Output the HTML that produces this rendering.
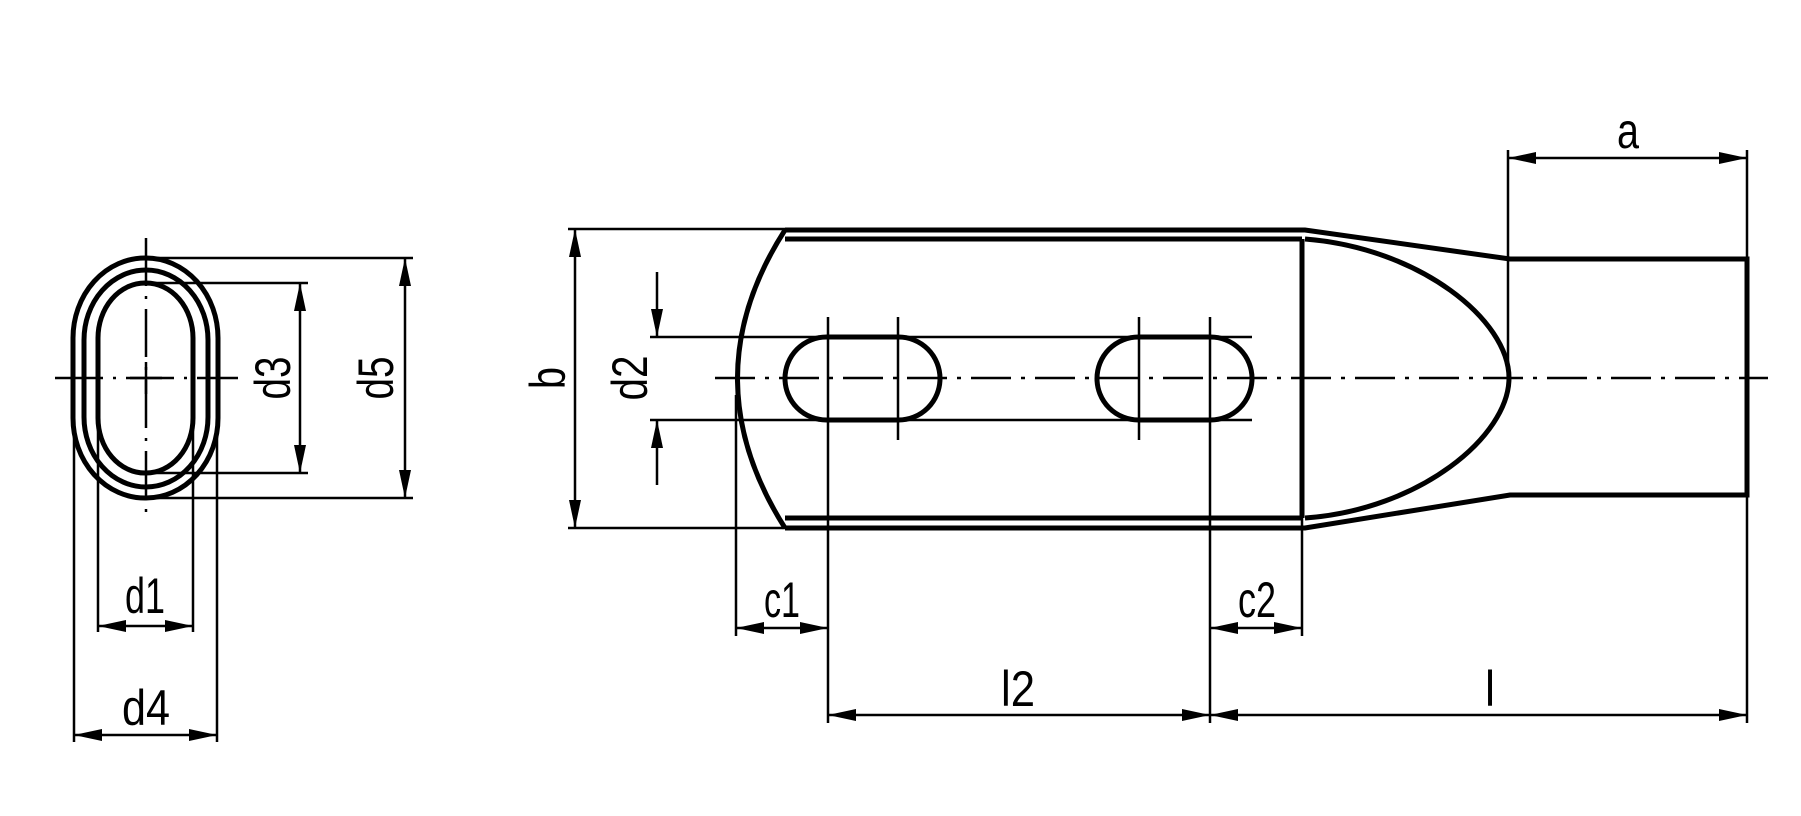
<!DOCTYPE html>
<html><head><meta charset="utf-8"><style>
html,body{margin:0;padding:0;background:#fff}
svg{display:block}
text{font-family:"Liberation Sans",sans-serif;font-size:50px;fill:#000}
</style></head><body>
<svg width="1801" height="816" viewBox="0 0 1801 816" xmlns="http://www.w3.org/2000/svg">
<defs>
<marker id="ar" viewBox="0 0 28 12" refX="28" refY="6" markerWidth="28" markerHeight="12" markerUnits="userSpaceOnUse" orient="auto-start-reverse">
<path d="M0,0 L28,6 L0,12 Z" fill="#000"/>
</marker>
</defs>
<g fill="none" stroke="#000">
<g stroke-width="5">
<rect x="73" y="258" width="145" height="240" rx="72" ry="80"/>
<rect x="84" y="270" width="124" height="217" rx="62" ry="70"/>
<rect x="98" y="283" width="95" height="190" rx="47" ry="55"/>
</g>
<g stroke-width="2.5">
<line x1="146" y1="238" x2="146" y2="517" stroke-dasharray="48 10 3 10"/>
<line x1="55" y1="378" x2="238" y2="378" stroke-dasharray="48 10 3 10"/>
<line x1="130" y1="378" x2="162" y2="378"/>
<line x1="146" y1="362" x2="146" y2="394"/>
<line x1="146" y1="283" x2="308" y2="283"/>
<line x1="146" y1="473" x2="308" y2="473"/>
<line x1="146" y1="258" x2="413" y2="258"/>
<line x1="146" y1="498" x2="413" y2="498"/>
<line x1="300" y1="283" x2="300" y2="473" marker-start="url(#ar)" marker-end="url(#ar)"/>
<line x1="405" y1="258" x2="405" y2="498" marker-start="url(#ar)" marker-end="url(#ar)"/>
<line x1="74" y1="390" x2="74" y2="742"/>
<line x1="217" y1="390" x2="217" y2="742"/>
<line x1="98" y1="400" x2="98" y2="632"/>
<line x1="193" y1="400" x2="193" y2="632"/>
<line x1="98" y1="626" x2="193" y2="626" marker-start="url(#ar)" marker-end="url(#ar)"/>
<line x1="74" y1="735" x2="217" y2="735" marker-start="url(#ar)" marker-end="url(#ar)"/>
</g>
<g stroke-width="5">
<path d="M785,230 L1305,230 L1510,259 L1747,259 L1747,495 L1510,495 L1305,528 L785,528"/>
<path d="M785,230 Q690,378 785,528"/>
<line x1="785" y1="239" x2="1302" y2="239"/>
<line x1="785" y1="518" x2="1302" y2="518"/>
<line x1="1302" y1="239" x2="1302" y2="518"/>
<path d="M1305,239 C1420,248 1509,320 1509,378 C1509,436 1420,510 1305,518"/>
<rect x="785" y="337" width="155" height="83" rx="41.5"/>
<rect x="1097" y="337" width="155" height="83" rx="41.5"/>
</g>
<g stroke-width="2.5">
<line x1="715" y1="378" x2="1768" y2="378" stroke-dasharray="40 10 4 10"/>
<line x1="568" y1="229" x2="785" y2="229"/>
<line x1="568" y1="528" x2="785" y2="528"/>
<line x1="575" y1="229" x2="575" y2="528" marker-start="url(#ar)" marker-end="url(#ar)"/>
<line x1="650" y1="337" x2="1252" y2="337"/>
<line x1="650" y1="420" x2="1252" y2="420"/>
<line x1="657" y1="272" x2="657" y2="337" marker-end="url(#ar)"/>
<line x1="657" y1="485" x2="657" y2="420" marker-end="url(#ar)"/>
<line x1="828" y1="317" x2="828" y2="723"/>
<line x1="898" y1="317" x2="898" y2="440"/>
<line x1="1139" y1="317" x2="1139" y2="440"/>
<line x1="1210" y1="317" x2="1210" y2="723"/>
<line x1="736" y1="395" x2="736" y2="636"/>
<line x1="1302" y1="518" x2="1302" y2="636"/>
<line x1="1747" y1="150" x2="1747" y2="723"/>
<line x1="1508" y1="150" x2="1508" y2="372"/>
<line x1="1508" y1="158" x2="1747" y2="158" marker-start="url(#ar)" marker-end="url(#ar)"/>
<line x1="736" y1="628" x2="828" y2="628" marker-start="url(#ar)" marker-end="url(#ar)"/>
<line x1="1210" y1="628" x2="1302" y2="628" marker-start="url(#ar)" marker-end="url(#ar)"/>
<line x1="828" y1="715" x2="1210" y2="715" marker-start="url(#ar)" marker-end="url(#ar)"/>
<line x1="1210" y1="715" x2="1747" y2="715" marker-start="url(#ar)" marker-end="url(#ar)"/>
</g>
</g>
<text x="145" y="613" text-anchor="middle" textLength="40" lengthAdjust="spacingAndGlyphs">d1</text>
<text x="146" y="725" text-anchor="middle" textLength="48" lengthAdjust="spacingAndGlyphs">d4</text>
<text transform="translate(290,378) rotate(-90)" text-anchor="middle" textLength="43" lengthAdjust="spacingAndGlyphs">d3</text>
<text transform="translate(393,378) rotate(-90)" text-anchor="middle" textLength="43" lengthAdjust="spacingAndGlyphs">d5</text>
<text transform="translate(647,378) rotate(-90)" text-anchor="middle" textLength="45" lengthAdjust="spacingAndGlyphs">d2</text>
<text transform="translate(565,378) rotate(-90)" text-anchor="middle" textLength="22" lengthAdjust="spacingAndGlyphs">b</text>
<text x="1628" y="148" text-anchor="middle" textLength="22" lengthAdjust="spacingAndGlyphs">a</text>
<text x="782" y="617" text-anchor="middle" textLength="36" lengthAdjust="spacingAndGlyphs">c1</text>
<text x="1257" y="617" text-anchor="middle" textLength="38" lengthAdjust="spacingAndGlyphs">c2</text>
<text x="1018" y="706" text-anchor="middle" textLength="34" lengthAdjust="spacingAndGlyphs">l2</text>
<text x="1490" y="706" text-anchor="middle" textLength="10" lengthAdjust="spacingAndGlyphs">l</text>
</svg>
</body></html>
